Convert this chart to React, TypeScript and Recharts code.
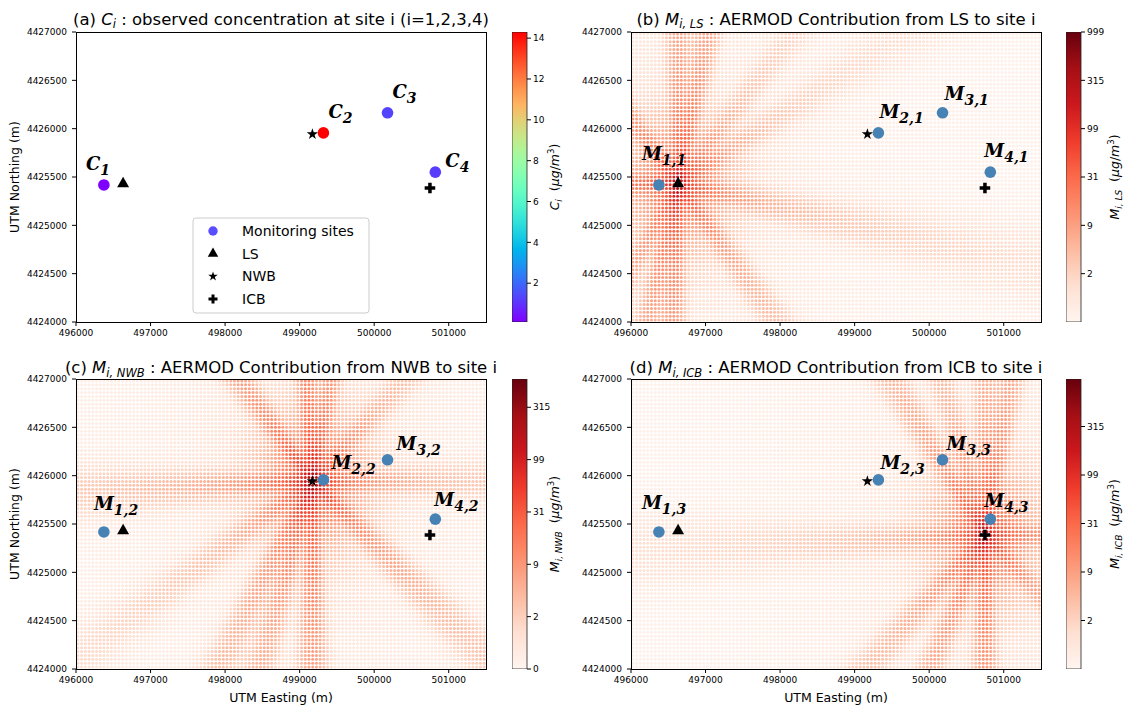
import React from "react";
import { ScatterChart, Scatter, XAxis, YAxis, BarChart, Bar, Symbols } from "recharts";

const FONT = "'DejaVu Sans', sans-serif";
const LABEL_FONT = "'DejaVu Serif', serif";

// monitoring sites (UTM, m) and observed concentration C_i (ug/m3)
const siteEasting = [496374, 499319, 500179, 500820];
const siteNorthing = [4425418, 4425956, 4426164, 4425550];
const observedConc = [0.1, 14.3, 1.3, 1.2];

// point sources: LS, NWB, ICB
const sourceEasting = [496632, 499171, 500748];
const sourceNorthing = [4425430, 4425943, 4425386];
const sourcePeak = [110, 110, 115];

// plume spokes around each source: compass bearing (deg) and relative strength
const lsBearings = [0, 14, 183, 196, 137, 100, 270, 317, 215, 45, 63];
const lsWeights = [0.8, 0.9, 1.0, 0.8, 0.55, 0.5, 0.85, 0.65, 0.5, 0.3, 0.3];
const nwbBearings = [356, 317, 13, 180, 200, 213, 128, 90, 268, 50, 240];
const nwbWeights = [0.9, 0.7, 0.65, 1.0, 0.7, 0.6, 0.6, 0.4, 0.55, 0.35, 0.35];
const icbBearings = [0, 12, 322, 340, 180, 208, 229, 268, 90, 130];
const icbWeights = [0.6, 0.8, 0.7, 0.5, 1.0, 0.7, 0.55, 0.4, 0.5, 0.45];

const xTicks = [496000, 497000, 498000, 499000, 500000, 501000];
const yTicks = [4424000, 4424500, 4425000, 4425500, 4426000, 4426500, 4427000];
const xDomain = [496000, 501500];
const yDomain = [4424000, 4427000];

// colorbar ticks: linear for C_i, log10(1 + M) for the AERMOD maps
const concTicks = [2, 4, 6, 8, 10, 12, 14];
const concRange = [0.1, 14.3];
const lsBarTicks = [0.5, 1, 1.5, 2, 2.5, 3];
const nwbBarTicks = [0, 0.5, 1, 1.5, 2, 2.5];
const icbBarTicks = [0.5, 1, 1.5, 2, 2.5];
const barMax = [3.0, 2.77, 2.99];

// receptor grid spacing (m)
const gridDx = 50;
const gridDy = 40;

const spokeBearings = [lsBearings, nwbBearings, icbBearings];
const spokeWeights = [lsWeights, nwbWeights, icbWeights];

const PLOT_W = 410;
const PLOT_H = 290;
const Y_AXIS_W = 76;
const M_TOP = 10;
const M_RIGHT = 10;
const X_AXIS_H = 26;

const REDS = ["#fff5f0", "#fee0d2", "#fcbba1", "#fc9272", "#fb6a4a", "#ef3b2c", "#cb181d", "#a50f15", "#67000d"];

const hexRgb = (h: string) => [1, 3, 5].map((i) => parseInt(h.slice(i, i + 2), 16));
const toHex = (c: number[]) => "#" + c.map((v) => Math.round(Math.max(0, Math.min(255, v))).toString(16).padStart(2, "0")).join("");

function reds(t: number) {
  const s = Math.max(0, Math.min(1, t)) * (REDS.length - 1);
  const i = Math.min(REDS.length - 2, Math.floor(s));
  const f = s - i;
  const a = hexRgb(REDS[i]);
  const b = hexRgb(REDS[i + 1]);
  return toHex(a.map((v, k) => v + (b[k] - v) * f));
}

// matplotlib "rainbow"
function rainbow(x: number) {
  const r = Math.min(1, Math.abs(2 * x - 0.5));
  const g = Math.sin(Math.PI * x);
  const b = Math.cos((Math.PI * x) / 2);
  return toHex([r * 255, g * 255, b * 255]);
}

const concColor = (c: number) => rainbow((c - concRange[0]) / (concRange[1] - concRange[0]));

// dispersion along each spoke, widening with distance from the stack
function plume(k: number, x: number, y: number) {
  const dx = x - sourceEasting[k];
  const dy = y - sourceNorthing[k];
  const r = Math.hypot(dx, dy);
  const bearing = ((Math.atan2(dx, dy) * 180) / Math.PI + 360) % 360;
  const sigma = 30 + 0.05 * r;
  let g = 0.08 + 1.2 * Math.exp(-r / 350);
  spokeBearings[k].forEach((b, j) => {
    let d = Math.abs(bearing - b);
    if (d > 180) d = 360 - d;
    if (d >= 90) return;
    const lat = r * Math.sin((d * Math.PI) / 180);
    g += spokeWeights[k][j] * Math.exp(-0.5 * (lat / sigma) ** 2);
  });
  return sourcePeak[k] * (120 / (r + 120)) * g;
}

function buildField(k: number) {
  const pts: { x: number; y: number; fill: string }[] = [];
  for (let x = xDomain[0] + gridDx / 2; x < xDomain[1]; x += gridDx) {
    for (let y = yDomain[0] + gridDy / 2; y < yDomain[1]; y += gridDy) {
      const t = Math.log10(1 + plume(k, x, y)) / barMax[k];
      pts.push({ x, y, fill: reds(t) });
    }
  }
  return pts;
}

const fields = [buildField(0), buildField(1), buildField(2)];

const sites = siteEasting.map((x, i) => ({ x, y: siteNorthing[i], i }));
const srcPoint = (k: number) => [{ x: sourceEasting[k], y: sourceNorthing[k] }];

const tickStyle = { fontSize: 9, fill: "#000", fontFamily: FONT };

interface PanelProps {
  frameLeft: number;
  frameTop: number;
  field?: { x: number; y: number; fill: string }[];
  siteFill: (i: number) => string;
  prefix: string;
  subs: string[];
  offsets: number[][];
}

const MapPanel = ({ frameLeft, frameTop, field, siteFill, prefix, subs, offsets }: PanelProps) => {
  const siteShape = (p: any) => {
    const i = p.payload.i;
    return (
      <g>
        <circle cx={p.cx} cy={p.cy} r={5.8} fill={siteFill(i)} />
        <text x={p.cx + offsets[i][0]} y={p.cy + offsets[i][1]} fontFamily={LABEL_FONT} fontWeight="bold" fontStyle="italic" fontSize={18} fill="#000">
          {prefix}
          <tspan fontSize={14} dy={5}>{subs[i]}</tspan>
        </text>
      </g>
    );
  };
  return (
    <>
      <div style={{ position: "absolute", left: frameLeft - Y_AXIS_W, top: frameTop - M_TOP }}>
        <ScatterChart
          width={Y_AXIS_W + PLOT_W + M_RIGHT}
          height={M_TOP + PLOT_H + X_AXIS_H}
          margin={{ top: M_TOP, right: M_RIGHT, bottom: 0, left: 0 }}
        >
          <XAxis type="number" dataKey="x" domain={xDomain} ticks={xTicks} interval={0} height={X_AXIS_H}
            tickSize={4} tickMargin={4} axisLine={false} tick={tickStyle} tickLine={{ stroke: "#000" }} allowDataOverflow />
          <YAxis type="number" dataKey="y" domain={yDomain} ticks={yTicks} interval={0} width={Y_AXIS_W}
            tickSize={4} tickMargin={5} axisLine={false} tick={tickStyle} tickLine={{ stroke: "#000" }} allowDataOverflow />
          {field && (
            <Scatter data={field} isAnimationActive={false}
              shape={(p: any) => <circle cx={p.cx} cy={p.cy} r={1.5} fill={p.payload.fill} />} />
          )}
          <Scatter data={srcPoint(0)} isAnimationActive={false}
            shape={(p: any) => <Symbols cx={p.cx} cy={p.cy} type="triangle" size={62} fill="#000" />} />
          <Scatter data={srcPoint(1)} isAnimationActive={false}
            shape={(p: any) => <Symbols cx={p.cx} cy={p.cy} type="star" size={40} fill="#000" />} />
          <Scatter data={srcPoint(2)} isAnimationActive={false}
            shape={(p: any) => <Symbols cx={p.cx} cy={p.cy} type="cross" size={62} fill="#000" />} />
          <Scatter data={sites} isAnimationActive={false} shape={siteShape} />
        </ScatterChart>
      </div>
      <div style={{ position: "absolute", left: frameLeft, top: frameTop, width: PLOT_W + 1, height: PLOT_H + 1, border: "1px solid #000", boxSizing: "border-box", pointerEvents: "none" }} />
    </>
  );
};

interface ColorbarProps {
  id: string;
  left: number;
  top: number;
  stops: string[];
  domain: number[];
  ticks: number[];
  format: (v: number) => string;
}

const Colorbar = ({ id, left, top, stops, domain, ticks, format }: ColorbarProps) => (
  <div style={{ position: "absolute", left, top: top - M_TOP }}>
    <BarChart width={15 + 34} height={M_TOP + PLOT_H + X_AXIS_H} data={[{ name: id, range: domain }]}
      margin={{ top: M_TOP, right: 0, bottom: X_AXIS_H, left: 0 }} barCategoryGap={0} barGap={0}>
      <defs>
        <linearGradient id={id} x1="0" y1="1" x2="0" y2="0">
          {stops.map((c, i) => (
            <stop key={i} offset={i / (stops.length - 1)} stopColor={c} />
          ))}
        </linearGradient>
      </defs>
      <XAxis dataKey="name" hide />
      <YAxis type="number" orientation="right" domain={domain} ticks={ticks} interval={0} width={34}
        tickSize={4} tickMargin={2} axisLine={false} tick={tickStyle} tickLine={{ stroke: "#000" }}
        tickFormatter={format} allowDataOverflow />
      <Bar dataKey="range" fill={`url(#${id})`} stroke="#222" strokeWidth={0.8} isAnimationActive={false} />
    </BarChart>
  </div>
);

const logLabel = (v: number) => String(Math.round(10 ** v - 1));
const rainbowStops = Array.from({ length: 21 }, (_, i) => rainbow(i / 20));

const Unit = () => (
  <>
    <tspan dx={4}>(</tspan>
    <tspan fontStyle="italic">μg</tspan>
    <tspan>/</tspan>
    <tspan fontStyle="italic">m</tspan>
    <tspan fontSize={8.5} dy={-5}>3</tspan>
    <tspan dy={5}>)</tspan>
  </>
);

const Title = ({ x, y, tag, sym, sub, rest }: any) => (
  <text x={x} y={y} textAnchor="middle" fontSize={16.5} fontFamily={FONT} style={{ whiteSpace: "pre" }}>
    <tspan>{tag}</tspan>
    <tspan fontStyle="italic">{sym}</tspan>
    <tspan fontStyle="italic" fontSize={11.5} dy={3.5}>{sub}</tspan>
    <tspan dy={-3.5}>{rest}</tspan>
  </text>
);

const BarLabel = ({ x, y, sym, sub }: any) => (
  <text transform={`translate(${x},${y}) rotate(-90)`} textAnchor="middle" fontSize={12.5} fontFamily={FONT} style={{ whiteSpace: "pre" }}>
    <tspan fontStyle="italic">{sym}</tspan>
    <tspan fontStyle="italic" fontSize={9} dy={3}>{sub}</tspan>
    <tspan dy={-3}> </tspan>
    <Unit />
  </text>
);

const legendRows = [
  { type: "circle", size: 70, label: "Monitoring sites", fill: "#5a4cff" },
  { type: "triangle", size: 48, label: "LS", fill: "#000" },
  { type: "star", size: 28, label: "NWB", fill: "#000" },
  { type: "cross", size: 45, label: "ICB", fill: "#000" },
];

export default function App() {
  return (
    <div style={{ position: "absolute", left: 0, top: 0, width: 1129, height: 706, background: "#fff", fontFamily: FONT }}>
      <MapPanel frameLeft={76} frameTop={32} siteFill={(i) => concColor(observedConc[i])} prefix="C"
        subs={["1", "2", "3", "4"]} offsets={[[-18, -15], [5, -15], [5, -15], [10, -5]]} />
      <MapPanel frameLeft={631} frameTop={32} field={fields[0]} siteFill={() => "#4682b4"} prefix="M"
        subs={["1,1", "2,1", "3,1", "4,1"]} offsets={[[-17, -25], [1, -15], [2, -13], [-6, -15]]} />
      <MapPanel frameLeft={76} frameTop={379} field={fields[1]} siteFill={() => "#4682b4"} prefix="M"
        subs={["1,2", "2,2", "3,2", "4,2"]} offsets={[[-10, -22], [8, -11], [9, -10], [-1, -13]]} />
      <MapPanel frameLeft={631} frameTop={379} field={fields[2]} siteFill={() => "#4682b4"} prefix="M"
        subs={["1,3", "2,3", "3,3", "4,3"]} offsets={[[-17, -23], [2, -11], [4, -10], [-6, -12]]} />

      <Colorbar id="cb-conc" left={512} top={32} stops={rainbowStops} domain={concRange} ticks={concTicks} format={(v) => String(v)} />
      <Colorbar id="cb-ls" left={1066} top={32} stops={REDS} domain={[0, barMax[0]]} ticks={lsBarTicks} format={logLabel} />
      <Colorbar id="cb-nwb" left={512} top={379} stops={REDS} domain={[0, barMax[1]]} ticks={nwbBarTicks} format={logLabel} />
      <Colorbar id="cb-icb" left={1066} top={379} stops={REDS} domain={[0, barMax[2]]} ticks={icbBarTicks} format={logLabel} />

      <svg width={1129} height={706} style={{ position: "absolute", left: 0, top: 0, pointerEvents: "none" }} fontFamily={FONT}>
        <Title x={281} y={24.5} tag="(a) " sym="C" sub="i" rest=" : observed concentration at site i (i=1,2,3,4)" />
        <Title x={836} y={24.5} tag="(b) " sym="M" sub="i, LS" rest=" : AERMOD Contribution from LS to site i" />
        <Title x={281} y={373} tag="(c) " sym="M" sub="i, NWB" rest=" : AERMOD Contribution from NWB to site i" />
        <Title x={836} y={373} tag="(d) " sym="M" sub="i, ICB" rest=" : AERMOD Contribution from ICB to site i" />

        <text transform="translate(19,177) rotate(-90)" textAnchor="middle" fontSize={12.5}>UTM Northing (m)</text>
        <text transform="translate(19,524) rotate(-90)" textAnchor="middle" fontSize={12.5}>UTM Northing (m)</text>
        <text x={281} y={702} textAnchor="middle" fontSize={12.5}>UTM Easting (m)</text>
        <text x={836} y={702} textAnchor="middle" fontSize={12.5}>UTM Easting (m)</text>

        <BarLabel x={559} y={177} sym="C" sub="i" />
        <BarLabel x={1119} y={177} sym="M" sub="i, LS" />
        <BarLabel x={559} y={524} sym="M" sub="i, NWB" />
        <BarLabel x={1119} y={524} sym="M" sub="i, ICB" />

        <rect x={193} y={218} width={176} height={95} rx={3} fill="#fff" fillOpacity={0.85} stroke="#ccc" />
        {legendRows.map((r, i) => (
          <g key={r.label}>
            <Symbols cx={213} cy={231 + i * 22.7} type={r.type as any} size={r.size} fill={r.fill} />
            <text x={242} y={236 + i * 22.7} fontSize={14}>{r.label}</text>
          </g>
        ))}
      </svg>
    </div>
  );
}
